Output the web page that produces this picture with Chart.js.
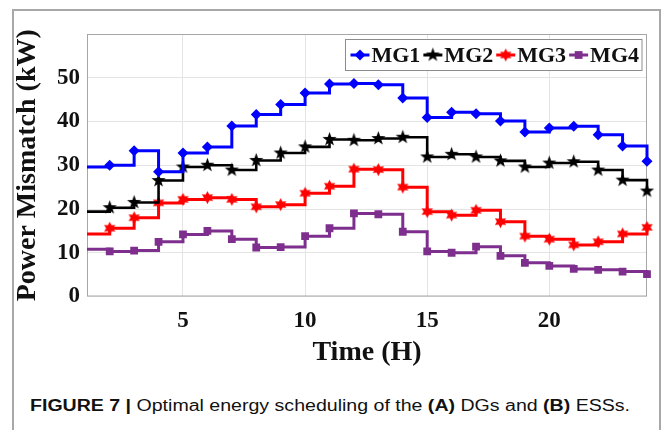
<!DOCTYPE html>
<html lang="en">
<head>
    <meta charset="UTF-8">
    <title>Power Mismatch</title>
    <script src="https://cdn.jsdelivr.net/npm/chart.js"></script>
    <style>
        body { margin: 0; background: #fff; width: 666px; height: 430px; overflow: hidden; position: relative; }
        #frame { position: absolute; left: 12px; top: 9px; width: 645px; height: 440px;
                 border: 2px solid #a8a8a8; border-bottom: none; }
        #chart { position: absolute; left: 0; top: 0; }
        #caption { position: absolute; left: 30px; top: 397px; font-size: 16px; color: #111;
                   font-family: "Liberation Sans", Arial, sans-serif;
                   white-space: nowrap; transform-origin: left top; }
    </style>
</head>
<body>
    <div id="frame"></div>
    <canvas id="chart" width="666" height="378"></canvas>
    <div id="caption"><b>FIGURE 7 |</b> Optimal energy scheduling of the <b>(A)</b> DGs and <b>(B)</b> ESSs.</div>

    <script>
        // hours and power mismatch per microgrid (kW)
        const hours = [1, 2, 3, 4, 5, 6, 7, 8, 9, 10, 11, 12, 13, 14, 15, 16, 17, 18, 19, 20, 21, 22, 23, 24];
        const mg1 = [29.6, 30.0, 33.3, 28.5, 32.8, 34.2, 39.0, 41.6, 43.9, 46.5, 48.6, 48.7, 48.4, 45.4, 40.9, 42.1, 41.8, 40.1, 37.6, 38.5, 38.9, 37.0, 34.4, 30.9];
        const mg2 = [19.4, 20.3, 21.5, 26.5, 29.6, 30.0, 28.9, 31.1, 32.8, 34.2, 35.9, 35.7, 36.1, 36.4, 31.9, 32.5, 31.9, 31.0, 29.6, 30.5, 30.8, 28.9, 26.6, 24.1];
        const mg3 = [14.3, 15.6, 18.0, 21.4, 22.2, 22.6, 22.2, 20.5, 21.0, 23.6, 25.2, 29.1, 29.0, 25.0, 19.4, 18.6, 19.7, 17.1, 13.8, 13.1, 11.8, 12.5, 14.3, 15.8];
        const mg4 = [10.8, 10.3, 10.5, 12.5, 14.2, 15.0, 13.1, 11.2, 11.3, 13.8, 15.6, 19.0, 18.8, 14.8, 10.3, 10.0, 11.4, 9.3, 7.7, 7.0, 6.3, 6.1, 5.7, 5.1];
        const seriesNames = ['MG1', 'MG2', 'MG3', 'MG4'];
        const xTicks = [5, 10, 15, 20];
        const yTicks = [0, 10, 20, 30, 40, 50];

        // filled star markers (Chart.js 'star' is only an outline)
        function starCanvas(points, outer, inner, color) {
            const s = Math.ceil(outer * 2) + 2;
            const c = document.createElement('canvas');
            c.width = c.height = s;
            const g = c.getContext('2d');
            g.fillStyle = color;
            g.beginPath();
            for (let i = 0; i < points * 2; i++) {
                const r = i % 2 ? inner : outer;
                const a = -Math.PI / 2 + i * Math.PI / points;
                g.lineTo(s / 2 + r * Math.cos(a), s / 2 + r * Math.sin(a));
            }
            g.closePath();
            g.fill();
            return c;
        }

        const styles = [
            { color: '#0000ff', pointStyle: 'rectRot', radius: 5.5 },
            { color: '#000000', pointStyle: starCanvas(5, 7.5, 3.0, '#000000'), radius: 6 },
            { color: '#ff0000', pointStyle: starCanvas(6, 6.5, 3.6, '#ff0000'), radius: 6 },
            { color: '#7e2f8e', pointStyle: 'rect', radius: 5.5 }
        ];

        const serif = '"Liberation Serif", "Times New Roman", serif';

        const datasets = [mg1, mg2, mg3, mg4].map((vals, i) => ({
            label: seriesNames[i],
            data: hours.map((h, j) => ({ x: h, y: vals[j] })),
            borderColor: styles[i].color,
            backgroundColor: styles[i].color,
            borderWidth: i === 1 ? 2.6 : 3,
            stepped: true,
            pointStyle: styles[i].pointStyle,
            pointRadius: ctx => ctx.dataIndex === 0 ? 0 : styles[i].radius,
            pointBorderWidth: 0,
            clip: { left: 0, top: 8, right: 8, bottom: 8 }
        }));

        // axes box + legend in the top right corner
        const framePlugin = {
            id: 'frameBox',
            beforeDatasetsDraw(chart) {
                const { ctx, chartArea: a } = chart;
                ctx.save();
                ctx.strokeStyle = '#a6a6a6';
                ctx.lineWidth = 1;
                ctx.strokeRect(a.left + 0.5, a.top + 0.5, a.width - 1, a.height - 1);
                ctx.restore();
            },
            afterDraw(chart) {
                const { ctx, chartArea: a } = chart;
                ctx.save();
                ctx.font = 'bold 22px ' + serif;
                const sample = 19;
                let total = 5;
                chart.data.datasets.forEach(ds => { total += sample + 2 + ctx.measureText(ds.label).width + 3; });
                const right = a.right - 5;
                const left = right - total;
                const top = a.top + 5.5;
                const h = 31;
                ctx.fillStyle = '#fff';
                ctx.fillRect(left, top, total, h);
                ctx.strokeStyle = '#8c8c8c';
                ctx.lineWidth = 1;
                ctx.strokeRect(left, top, total, h);
                const cy = top + h / 2;
                let x = left + 5;
                chart.data.datasets.forEach((ds, i) => {
                    ctx.strokeStyle = ds.borderColor;
                    ctx.fillStyle = ds.borderColor;
                    ctx.lineWidth = 3;
                    ctx.beginPath();
                    ctx.moveTo(x, cy);
                    ctx.lineTo(x + sample, cy);
                    ctx.stroke();
                    Chart.helpers.drawPoint(ctx, { pointStyle: styles[i].pointStyle, radius: styles[i].radius, rotation: 0, borderWidth: 0 }, x + sample / 2, cy);
                    ctx.fillStyle = '#111';
                    ctx.textBaseline = 'middle';
                    ctx.fillText(ds.label, x + sample + 2, cy + 1);
                    x += sample + 2 + ctx.measureText(ds.label).width + 3;
                });
                ctx.restore();
            }
        };

        new Chart(document.getElementById('chart').getContext('2d'), {
            type: 'line',
            data: { datasets },
            options: {
                responsive: false,
                animation: false,
                layout: { padding: { left: 0, top: 34, right: 19, bottom: 0 } },
                plugins: { legend: { display: false }, tooltip: { enabled: false } },
                scales: {
                    x: {
                        type: 'linear',
                        min: 1.07,
                        max: 24,
                        afterBuildTicks: s => { s.ticks = xTicks.map(v => ({ value: v })); },
                        afterFit: s => { s.height = 378 - 296.5; },
                        grid: { color: '#e4e4e4', drawTicks: false },
                        border: { display: false },
                        ticks: { color: '#111', padding: 11, font: { family: serif, size: 23, weight: 'bold' } },
                        title: {
                            display: true,
                            text: 'Time (H)',
                            color: '#111',
                            padding: { top: 0, bottom: 8 },
                            font: { family: serif, size: 28, weight: 'bold' }
                        }
                    },
                    y: {
                        min: 0,
                        max: 60,
                        afterBuildTicks: s => { s.ticks = yTicks.map(v => ({ value: v })); },
                        afterFit: s => { s.width = 87; },
                        grid: { color: '#e4e4e4', drawTicks: false },
                        border: { display: false },
                        ticks: { color: '#111', padding: 7, font: { family: serif, size: 23, weight: 'bold' } },
                        title: {
                            display: true,
                            text: 'Power Mismatch (kW)',
                            color: '#111',
                            padding: { top: 11, bottom: 0 },
                            font: { family: serif, size: 28, weight: 'bold' }
                        }
                    }
                }
            },
            plugins: [framePlugin]
        });

        // stretch the caption to the width it has in the figure
        const cap = document.getElementById('caption');
        const w = cap.getBoundingClientRect().width;
        cap.style.transform = 'scaleX(' + (600 / w) + ')';
    </script>
</body>
</html>
